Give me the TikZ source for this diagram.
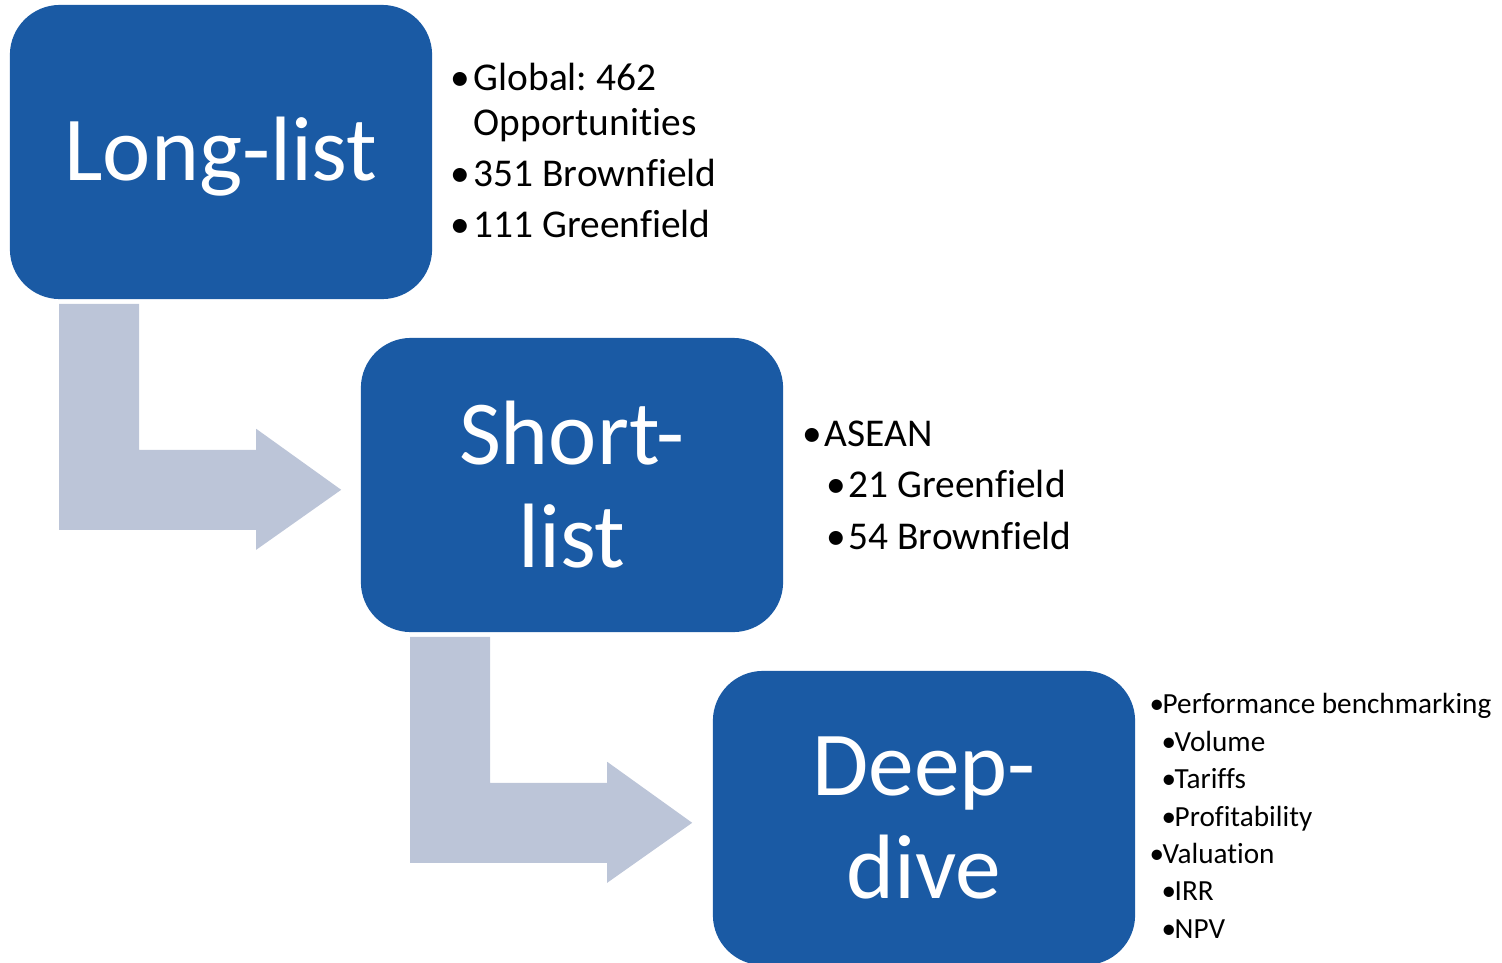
\documentclass[tikz,border=0pt]{standalone}
\usepackage{fontspec}
\setmainfont{Carlito}[Ligatures=NoCommon]
\usetikzlibrary{calc}
\definecolor{stageblue}{HTML}{1A5AA4}
\definecolor{arrowgrey}{HTML}{BCC5D8}
\frenchspacing
\tikzset{
  stage/.style={fill=stageblue, rounded corners=0.5cm, minimum width=4.22cm,
    minimum height=2.94cm, text=white, align=center, inner sep=0pt,
    font=\fontsize{26}{29.3}\selectfont},
  listtext/.style={anchor=base west, inner sep=0pt, font=\fontsize{11.2}{13}\selectfont},
  smalltext/.style={listtext, font=\fontsize{8.3}{10}\selectfont}
}
\begin{document}
\begin{tikzpicture}[x=0.01cm, y=-0.01cm]
        \useasboundingbox (0,0) rectangle (1502,963);

        % Stages
        \node[stage, text height=0.56cm, text depth=0cm] (long) at (221,152) {Long-list};
        \node[stage] (short) at (572,485) {Short-\\list};
        \node[stage] (deep) at (924,818) {Deep-\\dive};

        % Bent arrows from one stage to the next
        \foreach \a/\b in {long/short, short/deep}
            \fill[arrowgrey] ($(\a.south west)+(50,4)$) -- ++(80,0) -- ++(0,146)
                -- ++(117,0) -- ++(0,-21) -- ++(85,61) -- ++(-85,60) -- ++(0,-20)
                -- ++(-197,0) -- cycle;

        % Long-list points
        \foreach \y/\t [count=\i] in {90/Global: 462, 186/351 Brownfield, 237/111 Greenfield} {
            \node[listtext] (lb\i) at (450,\y) {•};
            \node[listtext] (lt\i) at (473,\y) {\t};
        }
        \node[listtext] (lt0) at (473,135) {Opportunities};

        % Short-list points
        \node[listtext] (sb0) at (802,446) {•};
        \node[listtext] (st0) at (824,446) {ASEAN};
        \foreach \y/\t [count=\i] in {497/21 Greenfield, 549/54 Brownfield} {
            \node[listtext] (sb\i) at (826,\y) {•};
            \node[listtext] (st\i) at (848,\y) {\t};
        }

        % Deep-dive points
        \foreach \x/\y/\t [count=\i] in {1149/713/Performance benchmarking, 1161/751/Volume,
            1161/788/Tariffs, 1161/826/Profitability, 1149/863/Valuation,
            1161/900/IRR, 1161/938/NPV} {
            \node[smalltext] (db\i) at (\x,\y) {•};
            \node[smalltext] (dt\i) at (\x+13,\y) {\t};
        }

\end{tikzpicture}
\end{document}
